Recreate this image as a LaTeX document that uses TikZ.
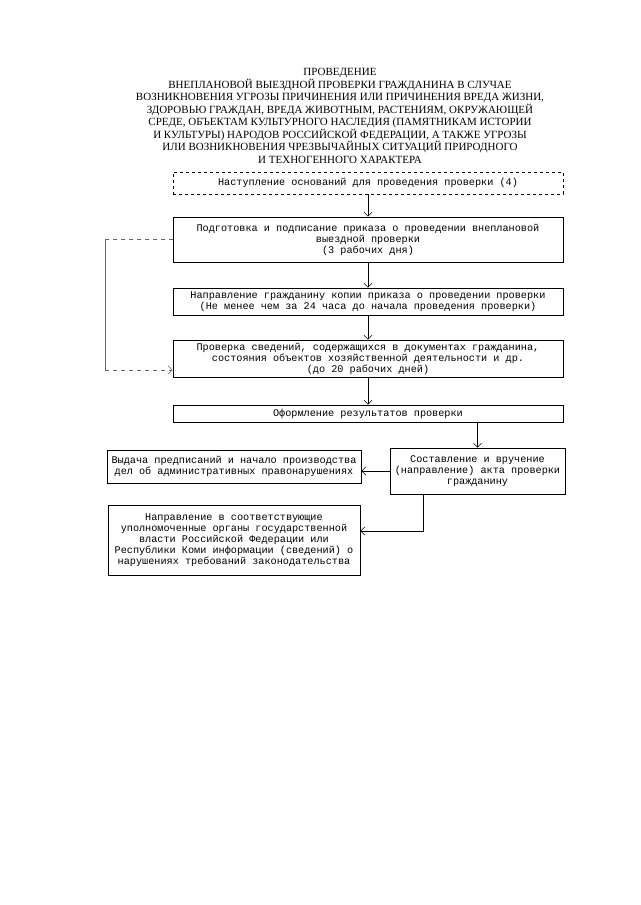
\documentclass[tikz,border=0pt]{standalone}
\usepackage{fontspec}
\setmainfont{Liberation Serif}
\newfontfamily\boxfont{Liberation Mono}
\usetikzlibrary{arrows.meta}

\begin{document}
\begin{tikzpicture}[x=1pt, y=-1pt, >={Straight Barb[length=4pt,width=8pt]},
    box/.style={draw, line width=0.7pt, inner sep=2pt, align=center, font=\boxfont\fontsize{10.2}{11}\selectfont},
    flowline/.style={->, line width=0.6pt},
    backline/.style={line width=0.6pt, black!60}]
    \useasboundingbox (0,0) rectangle (640,905);

    \node (zagolovok) [align=center, font=\fontsize{11}{12.5}\selectfont] at (340,116) {ПРОВЕДЕНИЕ\\ ВНЕПЛАНОВОЙ ВЫЕЗДНОЙ ПРОВЕРКИ ГРАЖДАНИНА В СЛУЧАЕ\\ ВОЗНИКНОВЕНИЯ УГРОЗЫ ПРИЧИНЕНИЯ ИЛИ ПРИЧИНЕНИЯ ВРЕДА ЖИЗНИ,\\ ЗДОРОВЬЮ ГРАЖДАН, ВРЕДА ЖИВОТНЫМ, РАСТЕНИЯМ, ОКРУЖАЮЩЕЙ\\ СРЕДЕ, ОБЪЕКТАМ КУЛЬТУРНОГО НАСЛЕДИЯ (ПАМЯТНИКАМ ИСТОРИИ\\ И КУЛЬТУРЫ) НАРОДОВ РОССИЙСКОЙ ФЕДЕРАЦИИ, А ТАКЖЕ УГРОЗЫ\\ ИЛИ ВОЗНИКНОВЕНИЯ ЧРЕЗВЫЧАЙНЫХ СИТУАЦИЙ ПРИРОДНОГО\\ И ТЕХНОГЕННОГО ХАРАКТЕРА};

    \node (osnov) [box, dashed, minimum width=390pt, minimum height=22pt] at (368,183) {Наступление оснований для проведения проверки (4)};
    \node (prikaz) [box, minimum width=390pt, minimum height=45pt] at (368,239.5) {Подготовка и подписание приказа о проведении внеплановой\\ выездной проверки\\ (3 рабочих дня)};
    \node (kopiya) [box, minimum width=390pt, minimum height=27pt] at (368,301.5) {Направление гражданину копии приказа о проведении проверки\\ (Не менее чем за 24 часа до начала проведения проверки)};
    \node (svedeniya) [box, minimum width=390pt, minimum height=37pt] at (368,358.5) {Проверка сведений, содержащихся в документах гражданина,\\ состояния объектов хозяйственной деятельности и др.\\ (до 20 рабочих дней)};
    \node (rezult) [box, minimum width=390pt, minimum height=17pt] at (368,413.5) {Оформление результатов проверки};
    \node (akt) [box, minimum width=175pt, minimum height=46pt] at (477.5,471) {Составление и вручение\\ (направление) акта проверки\\ гражданину};
    \node (predpis) [box, minimum width=254pt, minimum height=33pt] at (234,466.5) {Выдача предписаний и начало производства\\ дел об административных правонарушениях};
    \node (inform) [box, minimum width=252pt, minimum height=70pt] at (234,540) {Направление в соответствующие\\ уполномоченные органы государственной\\ власти Российской Федерации или\\ Республики Коми информации (сведений) о\\ нарушениях требований законодательства};

    \draw [flowline] (osnov) -- (prikaz);
    \draw [flowline] (prikaz) -- (kopiya);
    \draw [flowline] (kopiya) -- (svedeniya);
    \draw [flowline] (svedeniya) -- (rezult);
    \draw [flowline] (akt.north |- rezult.south) -- (akt.north);
    \draw [flowline] (akt.west) -- (akt.west -| predpis.east);

    % obhod sleva
    \coordinate (obhodA) at (105,239.5);
    \coordinate (obhodB) at (105,370);
    \draw [backline, dash pattern=on 4pt off 4pt] (prikaz.west) -- (obhodA);
    \draw [backline] (obhodA) -- (obhodB);
    \draw [backline, ->, dash pattern=on 4pt off 4pt] (obhodB) -- (obhodB -| svedeniya.west);

    % ot akta vniz k informacii
    \coordinate (povorot) at (423,531);
    \draw [flowline] (akt.south -| povorot) -- (povorot) -- (povorot -| inform.east);
\end{tikzpicture}
\end{document}
